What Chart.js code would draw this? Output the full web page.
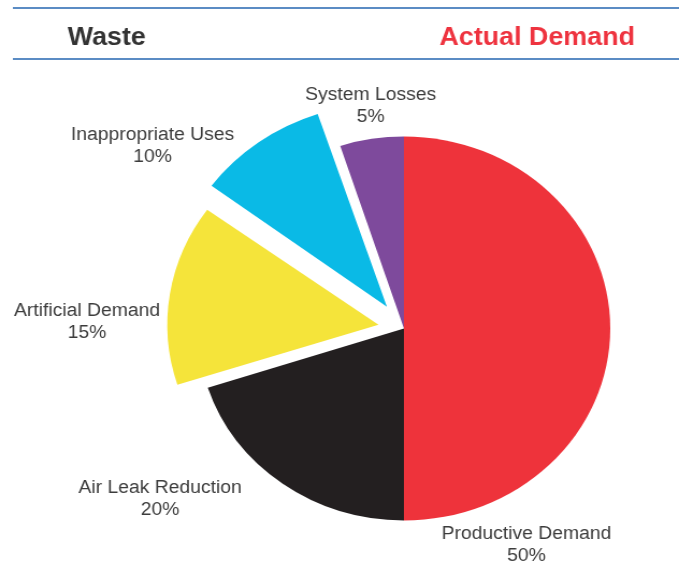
<!DOCTYPE html>
<html>
<head>
<meta charset="utf-8">
<script src="https://cdn.jsdelivr.net/npm/chart.js"></script>
<style>
  html, body { margin: 0; padding: 0; background: #fff; }
  #pie { display: block; width: 679px; height: 579px; }
</style>
</head>
<body>
<!-- drawn at 632px wide and stretched to 679px, like the source picture -->
<canvas id="pie" width="632" height="579" style="width:679px;height:579px"></canvas>
<script>
var categories = ["Productive Demand", "Air Leak Reduction", "Artificial Demand", "Inappropriate Uses", "System Losses"];
var shares = [50, 20, 15, 10, 5];
var headings = ["Waste", "Actual Demand"];

var sliceColors = ["#ee333b", "#231f20", "#f5e43a", "#0abae6", "#7e4a9c"];
var sliceOffsets = [0, 0, 96, 108, 0];

// label centres (canvas px), same order as categories
var labelSpots = [[490, 534], [149, 488], [81, 311], [142, 135], [345, 95]];

var headerPlugin = {
  id: "header",
  afterDraw: function(chart) {
    var ctx = chart.ctx;
    ctx.save();
    ctx.strokeStyle = "#5b8cc4";
    ctx.lineWidth = 2;
    ctx.beginPath();
    ctx.moveTo(12, 8); ctx.lineTo(632, 8);
    ctx.moveTo(12, 59); ctx.lineTo(632, 59);
    ctx.stroke();
    ctx.font = "bold 25px 'Liberation Sans', Arial, sans-serif";
    ctx.textBaseline = "alphabetic";
    ctx.textAlign = "left";
    ctx.fillStyle = "#333333";
    ctx.fillText(headings[0], 63, 45);
    ctx.fillStyle = "#ee333f";
    ctx.fillText(headings[1], 409, 45);
    ctx.restore();
  }
};

var sliceLabels = {
  id: "sliceLabels",
  afterDatasetsDraw: function(chart) {
    var ctx = chart.ctx;
    ctx.save();
    ctx.font = "18px 'Liberation Sans', Arial, sans-serif";
    ctx.fillStyle = "#3c3c3c";
    ctx.textAlign = "center";
    ctx.textBaseline = "middle";
    categories.forEach(function(name, i) {
      var p = labelSpots[i];
      ctx.fillText(name, p[0], p[1]);
      ctx.fillText(shares[i] + "%", p[0], p[1] + 22);
    });
    ctx.restore();
  }
};

new Chart(document.getElementById("pie"), {
  type: "pie",
  data: {
    labels: categories,
    datasets: [{
      data: shares,
      backgroundColor: sliceColors,
      offset: sliceOffsets,
      borderWidth: 0
    }]
  },
  options: {
    responsive: false,
    animation: false,
    radius: 192,
    layout: { padding: { left: 120, right: 0, top: 78, bottom: 0 } },
    plugins: {
      legend: { display: false },
      tooltip: { enabled: false }
    }
  },
  plugins: [headerPlugin, sliceLabels]
});
</script>
</body>
</html>
